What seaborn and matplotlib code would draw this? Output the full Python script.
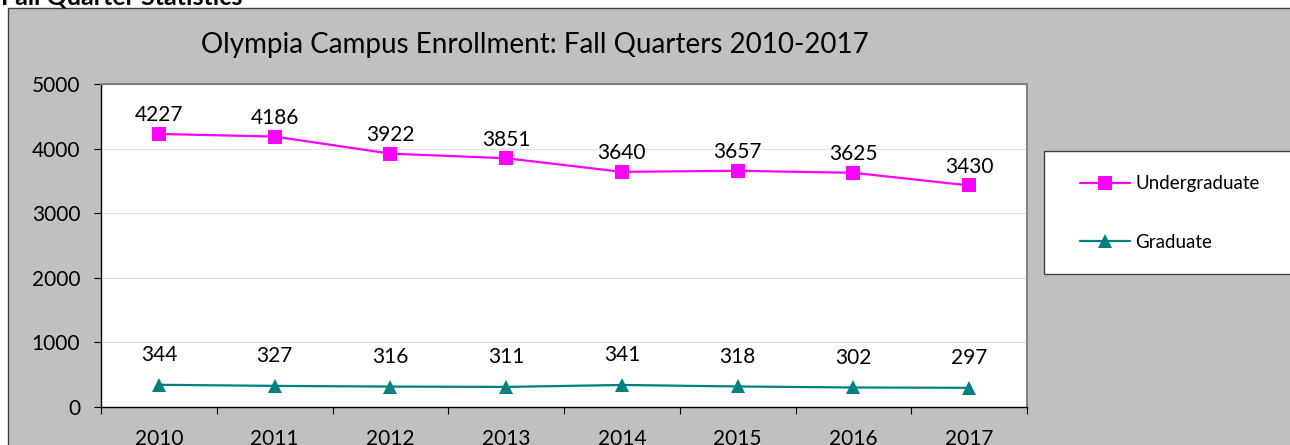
import pandas as pd
import seaborn as sns
from matplotlib import pyplot as plt
from matplotlib.patches import Rectangle
from matplotlib.ticker import FixedLocator, NullFormatter

# Data
years = ["2010", "2011", "2012", "2013", "2014", "2015", "2016", "2017"]
undergraduate = [4227, 4186, 3922, 3851, 3640, 3657, 3625, 3430]
graduate = [344, 327, 316, 311, 341, 318, 302, 297]

df = pd.DataFrame({
    "pos": list(range(len(years))) * 2,
    "value": undergraduate + graduate,
    "group": ["Undergraduate"] * len(years) + ["Graduate"] * len(years),
})

sns.set_theme(style="white")
plt.rcParams['font.family'] = ['Lato', 'DejaVu Sans']
plt.rcParams['text.color'] = "black"
plt.rcParams['xtick.color'] = "black"
plt.rcParams['ytick.color'] = "black"

W, H = 1290, 445
fig = plt.figure(figsize=(W / 100, H / 100), dpi=100)
fig.patch.set_facecolor("white")

# gray chart area
fig.patches.append(Rectangle((8 / W, -0.05), 1.1, 1 - 8 / H + 0.05, transform=fig.transFigure,
                             facecolor="#C0C0C0", edgecolor="#404040", linewidth=1.0, zorder=-10))
fig.text(0.001, 1 - 4 / H, "Fall Quarter Statistics", fontsize=18, fontweight="bold",
         ha="left", va="baseline", color="black")

ax = fig.add_axes([101 / W, 1 - 407 / H, (1027 - 101) / W, (407 - 84) / H])
ax.set_facecolor("white")

palette = {"Undergraduate": "#FF00FF", "Graduate": "#008080"}
markers = {"Undergraduate": "s", "Graduate": "^"}
sns.lineplot(data=df, x="pos", y="value", hue="group", style="group", palette=palette,
             markers=markers, dashes=False, markersize=10, linewidth=1.6, ax=ax,
             markeredgewidth=0)

for i, v in enumerate(undergraduate):
    ax.annotate(str(v), (i, v), xytext=(0, 9), textcoords="offset points",
                ha="center", va="baseline", fontsize=15)
for i, v in enumerate(graduate):
    ax.annotate(str(v), (i, v), xytext=(0, 17), textcoords="offset points",
                ha="center", va="baseline", fontsize=15)

ax.set_xlim(-0.5, len(years) - 0.5)
ax.set_ylim(0, 5000)
ax.set_yticks(range(0, 5001, 1000))
ax.yaxis.grid(True, color="#E0E0E0", linewidth=0.8)
ax.xaxis.grid(False)

ax.xaxis.set_major_locator(FixedLocator([i - 0.5 for i in range(len(years) + 1)]))
ax.xaxis.set_major_formatter(NullFormatter())
ax.xaxis.set_minor_locator(FixedLocator(list(range(len(years)))))
ax.set_xticklabels(years, minor=True)
ax.tick_params(axis="x", which="major", bottom=True, length=5, direction="out", color="black", width=0.8)
ax.tick_params(axis="x", which="minor", bottom=True, length=0, pad=16, labelsize=15)
ax.tick_params(axis="y", left=True, length=5, direction="out", color="black", width=0.8, pad=10, labelsize=15)

for side in ["left", "bottom"]:
    ax.spines[side].set_color("black")
    ax.spines[side].set_linewidth(1.0)
for side in ["top", "right"]:
    ax.spines[side].set_color("#808080")
    ax.spines[side].set_linewidth(1.5)

ax.set_xlabel("")
ax.set_ylabel("")

# legend box
fig.patches.append(Rectangle((1044 / W, 1 - 274 / H), 0.3, (274 - 151) / H, transform=fig.transFigure,
                             facecolor="white", edgecolor="#404040", linewidth=1.0, zorder=-5))
handles, labels = ax.get_legend_handles_labels()
ax.legend(handles, labels, loc="center left", bbox_to_anchor=(1080 / W, 1 - 213 / H),
          bbox_transform=fig.transFigure, frameon=False,
          fontsize=13.5, labelspacing=2.2, borderpad=0, handlelength=2.67, handletextpad=0.27,
          borderaxespad=0)

fig.text(535 / W, 1 - 45 / H, "Olympia Campus Enrollment: Fall Quarters 2010-2017",
         fontsize=20, ha="center", va="center")

fig.savefig("out.png", dpi=100)
